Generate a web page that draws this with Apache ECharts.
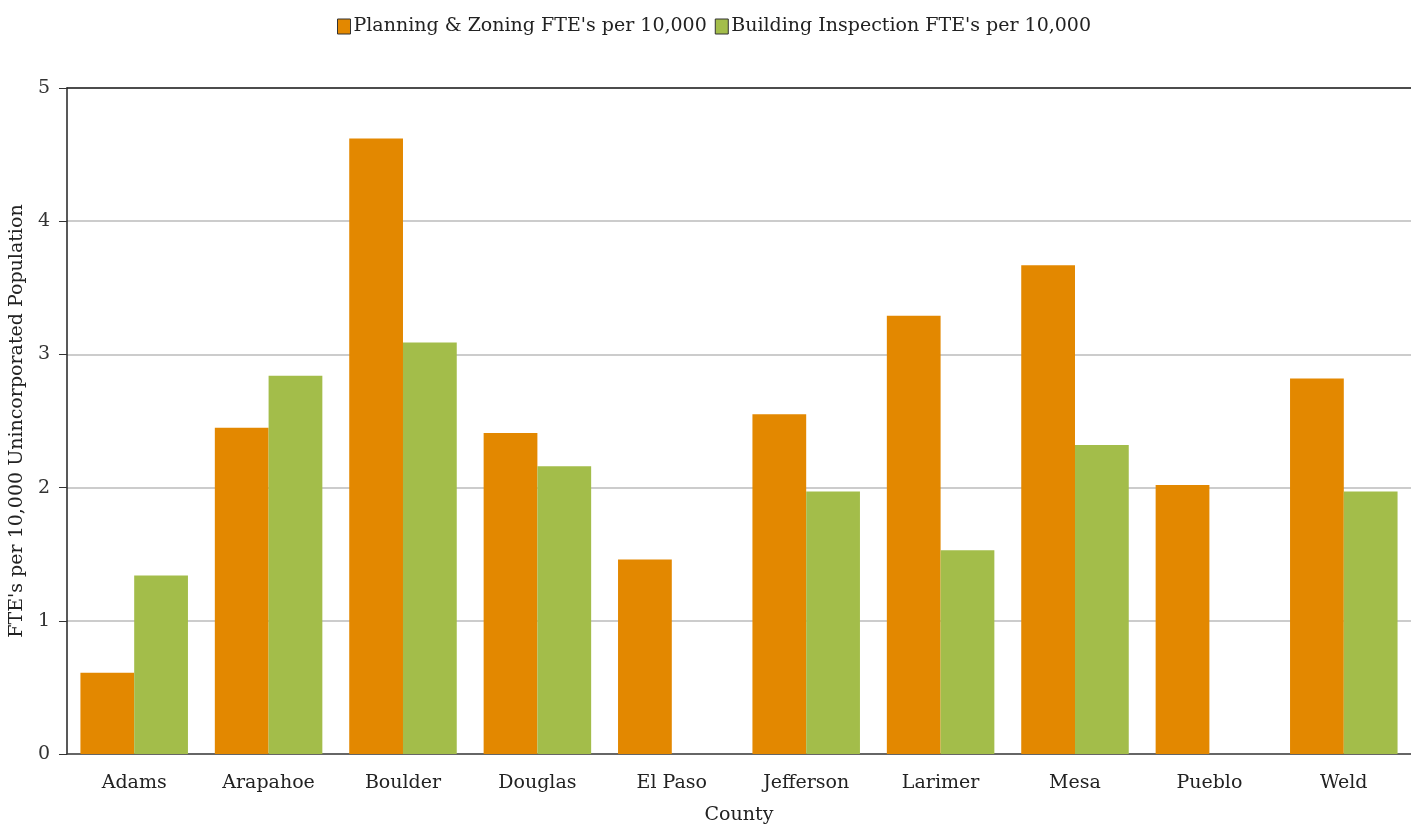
<!DOCTYPE html>
<html>
<head>
<meta charset="utf-8">
<script src="https://cdn.jsdelivr.net/npm/echarts@6/dist/echarts.min.js"></script>
<style>
  html, body { margin: 0; padding: 0; background: #fff; }
  #chart { width: 1411px; height: 830px; }
</style>
</head>
<body>
<div id="chart"></div>
<script>
  const counties = ['Adams', 'Arapahoe', 'Boulder', 'Douglas', 'El Paso', 'Jefferson', 'Larimer', 'Mesa', 'Pueblo', 'Weld'];
  const planningZoning = [0.61, 2.45, 4.62, 2.41, 1.46, 2.55, 3.29, 3.67, 2.02, 2.82];
  const buildingInspection = [1.34, 2.84, 3.09, 2.16, null, 1.97, 1.53, 2.32, null, 1.97];
  const yTicks = [0, 1, 2, 3, 4, 5];

  const font = 'DejaVu Serif';
  const chart = echarts.init(document.getElementById('chart'));

  const option = {
    animation: false,
    color: ['#e38800', '#a3bd4a'],
    textStyle: { fontFamily: font, color: '#222' },
    legend: {
      top: 12,
      left: 332,
      itemWidth: 13,
      itemHeight: 15,
      itemGap: 8,
      icon: 'rect',
      textStyle: { fontFamily: font, fontSize: 19, color: '#222', padding: [0, 0, 0, -2] },
      itemStyle: { borderColor: '#333', borderWidth: 1 },
      data: ["Planning & Zoning FTE's per 10,000", "Building Inspection FTE's per 10,000"]
    },
    grid: {
      left: 65,
      top: 88,
      width: 1353,
      height: 666,
      containLabel: false
    },
    xAxis: [
      {
        type: 'category',
        data: counties,
        name: 'County',
        nameLocation: 'middle',
        nameGap: 52,
        nameTextStyle: { fontFamily: font, fontSize: 19, color: '#222' },
        axisLine: { lineStyle: { color: '#444', width: 1.5 } },
        axisTick: { alignWithLabel: true, length: 7, lineStyle: { color: '#444' } },
        axisLabel: { fontFamily: font, fontSize: 19, color: '#222', margin: 20 }
      },
      {
        type: 'category',
        position: 'top',
        data: counties,
        axisLine: { lineStyle: { color: '#222', width: 1.5 } },
        axisTick: { show: false },
        axisLabel: { show: false }
      }
    ],
    yAxis: {
      type: 'value',
      min: yTicks[0],
      max: yTicks[yTicks.length - 1],
      interval: 1,
      name: "FTE's per 10,000 Unincorporated Population",
      nameLocation: 'middle',
      nameGap: 34,
      nameTextStyle: { fontFamily: font, fontSize: 19, color: '#222' },
      axisLine: { show: true, lineStyle: { color: '#222', width: 1.5 } },
      axisTick: { show: true, length: 8, lineStyle: { color: '#333' } },
      axisLabel: { fontFamily: font, fontSize: 19, color: '#333', margin: 17 },
      splitLine: { lineStyle: { color: '#bbb', width: 1.5 } }
    },
    series: [
      {
        name: "Planning & Zoning FTE's per 10,000",
        type: 'bar',
        data: planningZoning,
        barGap: '0%',
        barCategoryGap: '20%'
      },
      {
        name: "Building Inspection FTE's per 10,000",
        type: 'bar',
        data: buildingInspection,
        barGap: '0%',
        barCategoryGap: '20%'
      }
    ]
  };

  chart.setOption(option);
</script>
</body>
</html>
